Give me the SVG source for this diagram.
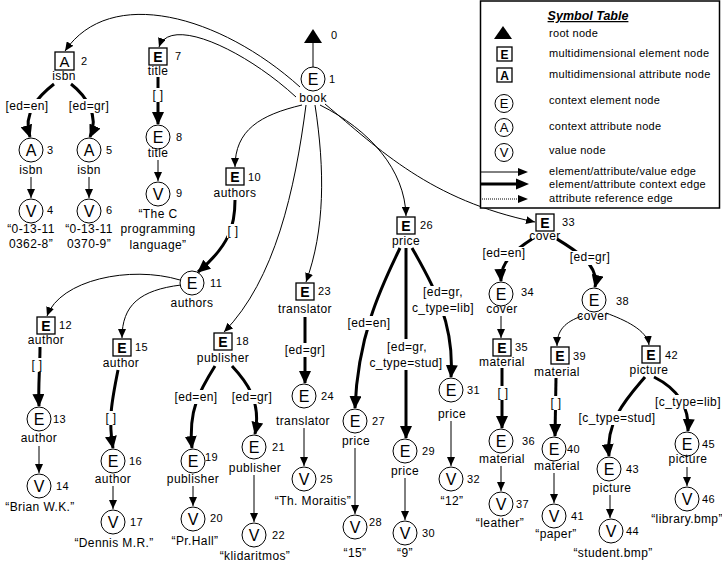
<svg xmlns="http://www.w3.org/2000/svg" width="722" height="568" viewBox="0 0 722 568">
<style>
text{font-family:'Liberation Sans',Arial,sans-serif;fill:#000}
.c{fill:#fff;stroke:#000;stroke-width:1}
.b{fill:#fff;stroke:#000;stroke-width:1.3}
.lt{font-size:16px;text-anchor:middle}
.lb{font-size:14px;font-weight:bold;text-anchor:middle}
.la{font-size:15px;text-anchor:middle}
.num{font-size:11px;letter-spacing:0.5px}
.nm{font-size:12px;letter-spacing:0.4px;text-anchor:middle}
.el{font-size:12px;letter-spacing:0.4px;text-anchor:middle}
.lg{font-size:11px;letter-spacing:0.3px}
.thin{fill:none;stroke:#000;stroke-width:1;marker-end:url(#ah)}
.thick{fill:none;stroke:#000;stroke-width:3;marker-end:url(#AH)}
.bg{fill:#fff}
</style>
<defs>
<marker id="ah" markerUnits="userSpaceOnUse" markerWidth="10" markerHeight="8" refX="9" refY="4" orient="auto"><path d="M0,0 L9,4 L0,8 z" fill="#000"/></marker>
<marker id="AH" markerUnits="userSpaceOnUse" markerWidth="14" markerHeight="12" refX="12" refY="6" orient="auto"><path d="M0,0 L13,6 L0,12 z" fill="#000"/></marker>
</defs>
<rect width="722" height="568" fill="#fff"/>

<g id="connectors">
<line x1="313" y1="43" x2="313" y2="67" stroke="#000" stroke-width="1"/>
<path class="thin" d="M300 87 C220 15,110 -15,65 51"/>
<path class="thin" d="M296 97 C245 50,170 15,159 47"/>
<path class="thin" d="M302 105 C260 115,235 130,235 167"/>
<path class="thin" d="M306 105 C295 190,275 280,224 332"/>
<path class="thin" d="M315 105 C325 170,325 230,306 282"/>
<path class="thin" d="M320 105 C370 130,405 170,406 216"/>
<path class="thin" d="M325 104 C380 150,430 200,535 222"/>
<path class="thin" d="M31 177 L31 198"/>
<path class="thin" d="M89 177 L89 198"/>
<path class="thin" d="M158 160 L158 181"/>
<path class="thin" d="M180 280 C130 265,60 280,47 316"/>
<path class="thin" d="M181 285 C140 290,122 305,122 338"/>
<path class="thin" d="M39 446 L39 473"/>
<path class="thin" d="M113 486 L113 509"/>
<path class="thin" d="M193 486 L193 506"/>
<path class="thin" d="M254 475 L254 522"/>
<path class="thin" d="M304 428 L304 466"/>
<path class="thin" d="M355 448 L355 514"/>
<path class="thin" d="M405 478 L405 520"/>
<path class="thin" d="M451 421 L451 466"/>
<path class="thin" d="M501 316 L501 338"/>
<path class="thin" d="M501 466 L501 491"/>
<path class="thin" d="M582 316 C565 322,557 330,557 346"/>
<path class="thin" d="M606 313 C625 320,647 330,649 345"/>
<path class="thin" d="M554 473 L554 503"/>
<path class="thin" d="M610 495 L610 518"/>
<path class="thin" d="M687 467 L687 486"/>

<path class="thick" d="M54 84 C40 95,22 112,30 137"/>
<path class="thick" d="M71 84 C85 95,100 115,90 137"/>
<path class="thick" d="M158 77 L158 124"/>
<path class="thick" d="M235 200 C235 225,230 245,198 272"/>
<path class="thick" d="M40 347 C40 370,38 385,39 406"/>
<path class="thick" d="M118 370 C112 400,108 420,113 448"/>
<path class="thick" d="M215 366 C200 390,188 410,192 448"/>
<path class="thick" d="M232 366 C245 380,262 400,255 434"/>
<path class="thick" d="M305 317 L305 383"/>
<path class="thick" d="M400 248 C385 280,358 330,355 408"/>
<path class="thick" d="M406 248 L406 438"/>
<path class="thick" d="M412 248 C430 280,455 320,451 377"/>
<path class="thick" d="M532 239 C515 250,500 262,501 281"/>
<path class="thick" d="M557 239 C575 250,600 265,595 287"/>
<path class="thick" d="M502 368 L502 428"/>
<path class="thick" d="M556 378 L555 436"/>
<path class="thick" d="M645 377 C630 395,605 420,609 456"/>
<path class="thick" d="M654 377 C670 385,690 400,688 431"/>

<rect class="bg" x="5" y="99" width="44" height="14"/><text class="el" x="27" y="110">[ed=en]</text>
<rect class="bg" x="68.5" y="99" width="41" height="14"/><text class="el" x="89" y="110">[ed=gr]</text>
<rect class="bg" x="152" y="88" width="12" height="14"/><text class="el" x="158" y="99">[ ]</text>
<rect class="bg" x="227" y="224" width="12" height="14"/><text class="el" x="233" y="235">[ ]</text>
<rect class="bg" x="31" y="358" width="12" height="14"/><text class="el" x="37" y="369">[ ]</text>
<rect class="bg" x="105" y="411" width="12" height="14"/><text class="el" x="111" y="422">[ ]</text>
<rect class="bg" x="174" y="390" width="44" height="14"/><text class="el" x="196" y="401">[ed=en]</text>
<rect class="bg" x="231.5" y="390" width="41" height="14"/><text class="el" x="252" y="401">[ed=gr]</text>
<rect class="bg" x="284.5" y="343" width="41" height="14"/><text class="el" x="305" y="354">[ed=gr]</text>
<rect class="bg" x="347" y="316" width="44" height="14"/><text class="el" x="369" y="327">[ed=en]</text>
<rect class="bg" x="369" y="339" width="74" height="31"/><text class="el" x="407" y="351">[ed=gr,</text><text class="el" x="406" y="367">c_type=stud]</text>
<rect class="bg" x="412" y="286" width="63" height="30"/><text class="el" x="443" y="296">[ed=gr,</text><text class="el" x="443" y="312">c_type=lib]</text>
<rect class="bg" x="482" y="247" width="44" height="14"/><text class="el" x="504" y="257">[ed=en]</text>
<rect class="bg" x="569.5" y="251" width="41" height="14"/><text class="el" x="590" y="261">[ed=gr]</text>
<rect class="bg" x="497" y="386" width="12" height="14"/><text class="el" x="503" y="397">[ ]</text>
<rect class="bg" x="550" y="396" width="12" height="14"/><text class="el" x="556" y="407">[ ]</text>
<rect class="bg" x="578" y="411" width="78" height="14"/><text class="el" x="617" y="422">[c_type=stud]</text>
<rect class="bg" x="655" y="395" width="66" height="14"/><text class="el" x="688" y="406">[c_type=lib]</text>
</g>

<g id="n0"><polygon points="313,29 304,43 322,43" fill="#000"/><text class="num" x="331" y="39">0</text></g>
<g id="n1"><circle class="c" cx="313" cy="79" r="12"/><text class="lt" x="313" y="85">E</text><text class="num" x="329" y="83">1</text><text class="nm" x="313" y="102">book</text></g>
<g id="n2"><rect class="b" x="55" y="52" width="19" height="18"/><text class="la" x="64.5" y="66.5">A</text><text class="num" x="81" y="65">2</text><text class="nm" x="64" y="80">isbn</text></g>
<g id="n3"><circle class="c" cx="31" cy="150" r="12"/><text class="lt" x="31" y="156">A</text><text class="num" x="47" y="154">3</text><text class="nm" x="31" y="174">isbn</text></g>
<g id="n4"><circle class="c" cx="31" cy="211" r="12"/><text class="lt" x="31" y="217">V</text><text class="num" x="47" y="214">4</text><text class="nm" x="31" y="233">“0-13-11</text><text class="nm" x="31" y="248">0362-8”</text></g>
<g id="n5"><circle class="c" cx="89" cy="150" r="12"/><text class="lt" x="89" y="156">A</text><text class="num" x="106" y="154">5</text><text class="nm" x="89" y="174">isbn</text></g>
<g id="n6"><circle class="c" cx="89" cy="211" r="12"/><text class="lt" x="89" y="217">V</text><text class="num" x="106" y="214">6</text><text class="nm" x="89" y="233">“0-13-11</text><text class="nm" x="89" y="248">0370-9”</text></g>
<g id="n7"><rect class="b" x="149" y="48" width="18" height="17"/><text class="lb" x="158" y="61.5">E</text><text class="num" x="175" y="60">7</text><text class="nm" x="158" y="75">title</text></g>
<g id="n8"><circle class="c" cx="158" cy="137" r="12"/><text class="lt" x="158" y="143">E</text><text class="num" x="176" y="141">8</text><text class="nm" x="158" y="157">title</text></g>
<g id="n9"><circle class="c" cx="158" cy="194" r="12"/><text class="lt" x="158" y="200">V</text><text class="num" x="176" y="197">9</text><text class="nm" x="158" y="218">“The C</text><text class="nm" x="158" y="233">programming</text><text class="nm" x="158" y="249">language”</text></g>
<g id="n10"><rect class="b" x="226" y="168" width="18" height="17"/><text class="lb" x="235" y="181.5">E</text><text class="num" x="248" y="181">10</text><text class="nm" x="235" y="197">authors</text></g>
<g id="n11"><circle class="c" cx="192" cy="283" r="12"/><text class="lt" x="192" y="289">E</text><text class="num" x="210" y="287">11</text><text class="nm" x="192" y="307">authors</text></g>
<g id="n12"><rect class="b" x="37" y="317" width="18" height="17"/><text class="lb" x="46" y="330.5">E</text><text class="num" x="59" y="329">12</text><text class="nm" x="46" y="344">author</text></g>
<g id="n13"><circle class="c" cx="39" cy="419" r="12"/><text class="lt" x="39" y="425">E</text><text class="num" x="53" y="423">13</text><text class="nm" x="39" y="442">author</text></g>
<g id="n14"><circle class="c" cx="39" cy="486" r="12"/><text class="lt" x="39" y="492">V</text><text class="num" x="56" y="490">14</text><text class="nm" x="40" y="511">“Brian W.K.”</text></g>
<g id="n15"><rect class="b" x="113" y="339" width="18" height="17"/><text class="lb" x="122" y="352.5">E</text><text class="num" x="135" y="351">15</text><text class="nm" x="121" y="367">author</text></g>
<g id="n16"><circle class="c" cx="113" cy="461" r="12"/><text class="lt" x="113" y="467">E</text><text class="num" x="129" y="465">16</text><text class="nm" x="113" y="483">author</text></g>
<g id="n17"><circle class="c" cx="113" cy="522" r="12"/><text class="lt" x="113" y="528">V</text><text class="num" x="130" y="526">17</text><text class="nm" x="114" y="547">“Dennis M.R.”</text></g>
<g id="n18"><rect class="b" x="214" y="333" width="18" height="17"/><text class="lb" x="223" y="346.5">E</text><text class="num" x="236" y="345">18</text><text class="nm" x="223" y="362">publisher</text></g>
<g id="n19"><circle class="c" cx="193" cy="461" r="12"/><text class="lt" x="193" y="467">E</text><text class="num" x="205" y="461">19</text><text class="nm" x="193" y="483">publisher</text></g>
<g id="n20"><circle class="c" cx="193" cy="519" r="12"/><text class="lt" x="193" y="525">V</text><text class="num" x="210" y="522">20</text><text class="nm" x="195" y="545">“Pr.Hall”</text></g>
<g id="n21"><circle class="c" cx="254" cy="447" r="12"/><text class="lt" x="254" y="453">E</text><text class="num" x="272" y="451">21</text><text class="nm" x="255" y="472">publisher</text></g>
<g id="n22"><circle class="c" cx="254" cy="535" r="12"/><text class="lt" x="254" y="541">V</text><text class="num" x="272" y="539">22</text><text class="nm" x="255" y="560">“klidaritmos”</text></g>
<g id="n23"><rect class="b" x="296" y="283" width="18" height="17"/><text class="lb" x="305" y="296.5">E</text><text class="num" x="318" y="295">23</text><text class="nm" x="305" y="313">translator</text></g>
<g id="n24"><circle class="c" cx="304" cy="396" r="12"/><text class="lt" x="304" y="402">E</text><text class="num" x="321" y="400">24</text><text class="nm" x="303" y="425">translator</text></g>
<g id="n25"><circle class="c" cx="304" cy="479" r="12"/><text class="lt" x="304" y="485">V</text><text class="num" x="320" y="483">25</text><text class="nm" x="313" y="505">“Th. Moraitis”</text></g>
<g id="n26"><rect class="b" x="397" y="217" width="18" height="17"/><text class="lb" x="406" y="230.5">E</text><text class="num" x="420" y="229">26</text><text class="nm" x="406" y="245">price</text></g>
<g id="n27"><circle class="c" cx="355" cy="421" r="12"/><text class="lt" x="355" y="427">E</text><text class="num" x="372" y="425">27</text><text class="nm" x="356" y="445">price</text></g>
<g id="n28"><circle class="c" cx="355" cy="527" r="12"/><text class="lt" x="355" y="533">V</text><text class="num" x="369" y="526">28</text><text class="nm" x="355" y="557">“15”</text></g>
<g id="n29"><circle class="c" cx="405" cy="451" r="12"/><text class="lt" x="405" y="457">E</text><text class="num" x="422" y="455">29</text><text class="nm" x="405" y="475">price</text></g>
<g id="n30"><circle class="c" cx="405" cy="533" r="12"/><text class="lt" x="405" y="539">V</text><text class="num" x="422" y="537">30</text><text class="nm" x="405" y="557">“9”</text></g>
<g id="n31"><circle class="c" cx="451" cy="390" r="12"/><text class="lt" x="451" y="396">E</text><text class="num" x="467" y="394">31</text><text class="nm" x="452" y="418">price</text></g>
<g id="n32"><circle class="c" cx="451" cy="479" r="12"/><text class="lt" x="451" y="485">V</text><text class="num" x="467" y="483">32</text><text class="nm" x="452" y="505">“12”</text></g>
<g id="n33"><rect class="b" x="536" y="214" width="18" height="17"/><text class="lb" x="545" y="227.5">E</text><text class="num" x="562" y="226">33</text><text class="nm" x="545" y="240">cover</text></g>
<g id="n34"><circle class="c" cx="501" cy="294" r="12"/><text class="lt" x="501" y="300">E</text><text class="num" x="521" y="296">34</text><text class="nm" x="502" y="313">cover</text></g>
<g id="n35"><rect class="b" x="493" y="339" width="18" height="17"/><text class="lb" x="502" y="352.5">E</text><text class="num" x="515" y="351">35</text><text class="nm" x="502" y="366">material</text></g>
<g id="n36"><circle class="c" cx="501" cy="441" r="12"/><text class="lt" x="501" y="447">E</text><text class="num" x="522" y="445">36</text><text class="nm" x="502" y="463">material</text></g>
<g id="n37"><circle class="c" cx="501" cy="504" r="12"/><text class="lt" x="501" y="510">V</text><text class="num" x="516" y="508">37</text><text class="nm" x="500" y="527">“leather”</text></g>
<g id="n38"><circle class="c" cx="594" cy="300" r="12"/><text class="lt" x="594" y="306">E</text><text class="num" x="616" y="305">38</text><text class="nm" x="593" y="320">cover</text></g>
<g id="n39"><rect class="b" x="551" y="347" width="18" height="17"/><text class="lb" x="560" y="360.5">E</text><text class="num" x="573" y="360">39</text><text class="nm" x="557" y="376">material</text></g>
<g id="n40"><circle class="c" cx="554" cy="449" r="12"/><text class="lt" x="554" y="455">E</text><text class="num" x="567" y="453">40</text><text class="nm" x="557" y="470">material</text></g>
<g id="n41"><circle class="c" cx="554" cy="516" r="12"/><text class="lt" x="554" y="522">V</text><text class="num" x="571" y="520">41</text><text class="nm" x="556" y="538">“paper”</text></g>
<g id="n42"><rect class="b" x="642" y="346" width="18" height="17"/><text class="lb" x="651" y="359.5">E</text><text class="num" x="665" y="359">42</text><text class="nm" x="649" y="374">picture</text></g>
<g id="n43"><circle class="c" cx="609" cy="469" r="12"/><text class="lt" x="609" y="475">E</text><text class="num" x="626" y="473">43</text><text class="nm" x="612" y="492">picture</text></g>
<g id="n44"><circle class="c" cx="611" cy="531" r="12"/><text class="lt" x="611" y="537">V</text><text class="num" x="626" y="535">44</text><text class="nm" x="613" y="557">“student.bmp”</text></g>
<g id="n45"><circle class="c" cx="687" cy="444" r="12"/><text class="lt" x="687" y="450">E</text><text class="num" x="702" y="448">45</text><text class="nm" x="688" y="463">picture</text></g>
<g id="n46"><circle class="c" cx="687" cy="499" r="12"/><text class="lt" x="687" y="505">V</text><text class="num" x="702" y="503">46</text><text class="nm" x="687" y="523">“library.bmp”</text></g>

<g id="legend">
<rect x="480.5" y="1" width="239" height="207" fill="#fff" stroke="#000" stroke-width="1.5"/>
<text x="588" y="20" font-size="12.5" font-weight="bold" font-style="italic" text-anchor="middle" text-decoration="underline">Symbol Table</text>
<polygon points="503,26 494,39 512,39" fill="#000"/>
<text class="lg" x="549" y="37">root node</text>
<rect class="b" x="497" y="47" width="15" height="14"/><text x="504.5" y="58.5" font-size="12" font-weight="bold" text-anchor="middle">E</text>
<text class="lg" x="549" y="57">multidimensional element node</text>
<rect class="b" x="497" y="68" width="15" height="14"/><text x="504.5" y="79.5" font-size="12" font-weight="bold" text-anchor="middle">A</text>
<text class="lg" x="549" y="78">multidimensional attribute node</text>
<circle class="c" cx="504" cy="103.5" r="9"/><text x="504" y="108" font-size="13" text-anchor="middle">E</text>
<text class="lg" x="549" y="104">context element node</text>
<circle class="c" cx="504" cy="127.5" r="9"/><text x="504" y="132" font-size="13" text-anchor="middle">A</text>
<text class="lg" x="549" y="130">context attribute node</text>
<circle class="c" cx="504" cy="152.5" r="9"/><text x="504" y="157" font-size="13" text-anchor="middle">V</text>
<text class="lg" x="549" y="154">value node</text>
<line x1="481" y1="172" x2="520" y2="172" stroke="#000" stroke-width="1"/><polygon points="518,168 528,172 518,176" fill="#000"/>
<text class="lg" x="549" y="175">element/attribute/value edge</text>
<line x1="481" y1="184" x2="518" y2="184" stroke="#000" stroke-width="3"/><polygon points="516,178.5 529,184 516,189.5" fill="#000"/>
<text class="lg" x="549" y="188">element/attribute context edge</text>
<line x1="482" y1="199" x2="518" y2="199" stroke="#000" stroke-width="1" stroke-dasharray="1 1"/><polygon points="518,195 528,199 518,203" fill="#000"/>
<text class="lg" x="549" y="202">attribute reference edge</text>
</g>
</svg>
